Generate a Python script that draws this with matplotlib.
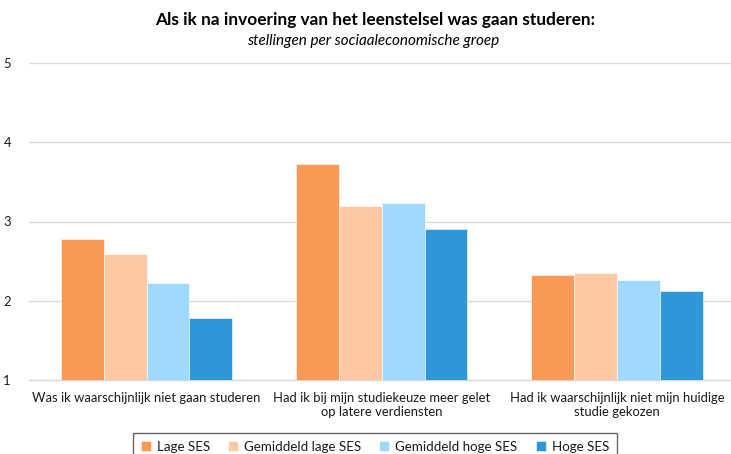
import matplotlib
matplotlib.use("Agg")
import matplotlib.pyplot as plt
import numpy as np

plt.rcParams['font.family'] = ['Lato', 'DejaVu Sans']

categories = ["Was ik waarschijnlijk niet gaan studeren",
              "Had ik bij mijn studiekeuze meer gelet\nop latere verdiensten",
              "Had ik waarschijnlijk niet mijn huidige\nstudie gekozen"]
series_names = ["Lage SES", "Gemiddeld lage SES", "Gemiddeld hoge SES", "Hoge SES"]
lage = [2.78, 3.72, 2.33]
gem_lage = [2.59, 3.19, 2.35]
gem_hoge = [2.22, 3.23, 2.26]
hoge = [1.78, 2.90, 2.12]
colors = ["#FA9855", "#FFC8A4", "#9FDAFE", "#2E97D7"]

W, H = 731, 454
fig = plt.figure(figsize=(W / 100, H / 100), dpi=100)
left, right, top, bottom = 29, 734.5, 63, 380
ax = fig.add_axes([left / W, 1 - bottom / H, (right - left) / W, (bottom - top) / H])

x = np.arange(len(categories))
bw = 0.182
data = [lage, gem_lage, gem_hoge, hoge]
for i, (vals, c, name) in enumerate(zip(data, colors, series_names)):
    ax.bar(x + (i - 1.5) * bw, np.array(vals) - 1, bottom=1, width=bw, color=c,
           edgecolor="white", linewidth=0.4, label=name, zorder=3)

ax.set_xlim(-0.5, 2.5)
ax.set_ylim(1, 5)
ax.set_yticks([1, 2, 3, 4, 5])
ax.grid(axis="y", color="#D9D9D9", linewidth=1, zorder=0)
for s in ["top", "right", "left"]:
    ax.spines[s].set_visible(False)
ax.spines["bottom"].set_color("#D9D9D9")
ax.spines["bottom"].set_linewidth(1)
ax.tick_params(axis="both", length=0, labelsize=9.4, colors="#1a1a1a")
ax.tick_params(axis="y", pad=13)
ax.tick_params(axis="x", pad=9)
ax.set_xticks(x)
ax.set_xticklabels(categories, linespacing=1.2)

fig.text(375 / W, 1 - 20 / H, "Als ik na invoering van het leenstelsel was gaan studeren:",
         ha="center", va="center", fontsize=12.4, fontweight="bold", color="black")
fig.text(373 / W, 1 - 41 / H, "stellingen per sociaaleconomische groep",
         ha="center", va="center", fontsize=11, style="italic", color="black")

leg = fig.legend(loc="upper center", bbox_to_anchor=(375 / W, 1 - 433 / H), ncol=4,
                 frameon=True, fancybox=False, fontsize=9.6, handlelength=0.75,
                 handleheight=0.75, handletextpad=0.45, columnspacing=1.35,
                 borderpad=0.6, borderaxespad=0)
leg.get_frame().set_edgecolor("#404040")
leg.get_frame().set_linewidth(1)
for t in leg.get_texts():
    t.set_color("#1a1a1a")

fig.savefig("out.png", dpi=100)
